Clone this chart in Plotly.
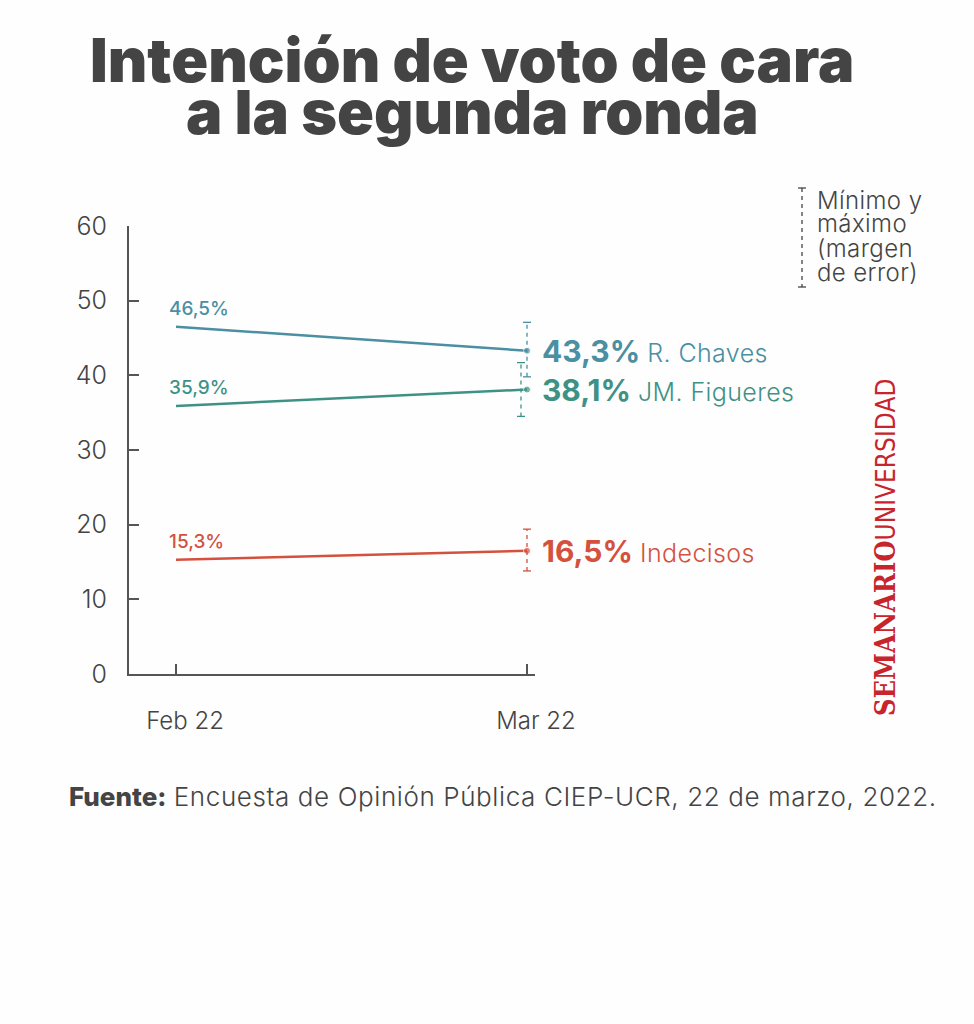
import plotly.graph_objects as go

# ---- data ----
months = ["Feb 22", "Mar 22"]
candidates = ["R. Chaves", "JM. Figueres", "Indecisos"]
chaves = [46.5, 43.3]
figueres = [35.9, 38.1]
indecisos = [15.3, 16.5]
err_low = [39.8, 34.5, 13.8]   # March minimum (margin of error)
err_high = [47.1, 41.7, 19.4]  # March maximum (margin of error)
y_ticks = [0, 10, 20, 30, 40, 50, 60]

series = [chaves, figueres, indecisos]
colors = ["#4a8fa2", "#3e9285", "#d4513e"]
err_px_offset = [0, -6, 0]

W, H = 974, 1024
L, R, T, B = 129, 535, 226, 674
TXT = "#444444"
FONT = "Inter"

def px(x):
    return (x - L) / (R - L)

def py(y):
    return (B - y) / (B - T)

def fmt(v):
    return f"{v:.1f}".replace(".", ",") + "%"

def wide(s, ls="0.5px"):
    return f"<span style='letter-spacing:{ls}'>{s}</span>"

xs = list(range(len(months)))
fig = go.Figure()

for name, vals, col in zip(candidates, series, colors):
    fig.add_trace(go.Scatter(
        x=xs, y=vals, mode="lines+markers", name=name,
        line=dict(color=col, width=2.5),
        marker=dict(color=col, size=[0, 7]),
        hoverinfo="skip", showlegend=False,
    ))

# error bars (dashed, with caps), through data scales
for i, col in enumerate(colors):
    off = err_px_offset[i]
    fig.add_shape(type="line", xref="x", yref="y", xsizemode="pixel", xanchor=xs[-1],
                  x0=off, x1=off, y0=err_low[i], y1=err_high[i],
                  line=dict(color=col, width=1.3, dash="4px,4px"))
    for yv in (err_low[i], err_high[i]):
        fig.add_shape(type="line", xref="x", yref="y", xsizemode="pixel", xanchor=xs[-1],
                      x0=off - 4, x1=off + 4, y0=yv, y1=yv,
                      line=dict(color=col, width=1.3))

annotations = []
# start labels
for vals, col in zip(series, colors):
    annotations.append(dict(
        x=xs[0], y=vals[0], xref="x", yref="y", text=fmt(vals[0]),
        showarrow=False, xanchor="left", yanchor="middle", xshift=-9, yshift=18,
        font=dict(family=FONT, size=19, color=col, weight=500),
    ))
# end labels
for name, vals, col in zip(candidates, series, colors):
    annotations.append(dict(
        x=xs[-1], y=vals[-1], xref="x", yref="y",
        text=f"<span style='font-size:30px;font-weight:700'>{fmt(vals[-1])}</span> " + wide(name, "0.4px"),
        showarrow=False, xanchor="left", yanchor="middle", xshift=13, yshift=0,
        font=dict(family=FONT, size=25, color=col, weight=300),
    ))

# title
for txt, yc in (("Intención de voto de cara", 60), ("a la segunda ronda", 112)):
    annotations.append(dict(x=px(472), y=py(yc), xref="paper", yref="paper",
                            text=txt, showarrow=False,
                            xanchor="center", yanchor="middle",
                            font=dict(family=FONT, size=61, color=TXT, weight=900)))

# legend note
for k, line in enumerate(["Mínimo y", "máximo", "(margen", "de error)"]):
    annotations.append(dict(x=px(815), y=py(200 + 24 * k), xref="paper", yref="paper",
                            text=wide(line, "0.4px"), showarrow=False,
                            xanchor="left", yanchor="middle", align="left",
                            font=dict(family=FONT, size=24, color=TXT, weight=300)))

# source
annotations.append(dict(x=px(67), y=py(796), xref="paper", yref="paper",
                        text="<span style='font-weight:800'>Fuente:</span> "
                             + wide("Encuesta de Opinión Pública CIEP-UCR, 22 de marzo, 2022.", "0.6px"),
                        showarrow=False, xanchor="left", yanchor="middle",
                        font=dict(family=FONT, size=26, color=TXT, weight=300)))

# logo
annotations.append(dict(x=px(885), y=py(548), xref="paper", yref="paper",
                        text="<span style='font-family:DejaVu Serif Condensed, DejaVu Serif;font-weight:700;font-size:27px'>SEMANARIO</span><span style='font-family:Liberation Sans Narrow, DejaVu Sans Condensed, Inter;font-weight:300'>UNIVERSIDAD</span>",
                        showarrow=False, textangle=-90, xanchor="center", yanchor="middle",
                        font=dict(family="Inter", size=26, color="#c8242b")))

shapes_extra = [
    dict(type="line", xref="paper", yref="paper", x0=px(802), x1=px(802), y0=py(188), y1=py(287),
         line=dict(color=TXT, width=1.3, dash="4px,4px")),
    dict(type="line", xref="paper", yref="paper", x0=px(798), x1=px(806), y0=py(188), y1=py(188),
         line=dict(color=TXT, width=1.3)),
    dict(type="line", xref="paper", yref="paper", x0=px(798), x1=px(806), y0=py(287), y1=py(287),
         line=dict(color=TXT, width=1.3)),
]
for s in shapes_extra:
    fig.add_shape(**s)

fig.update_layout(
    width=W, height=H,
    margin=dict(l=L, r=W - R, t=T, b=H - B),
    paper_bgcolor="#fefefe", plot_bgcolor="#fefefe",
    annotations=annotations,
    xaxis=dict(
        range=[-(176 - L) / 351, 1 + (R - 527) / 351],
        tickvals=xs, ticktext=months,
        showgrid=False, zeroline=False,
        showline=True, linecolor="#555555", linewidth=2,
        ticks="inside", ticklen=10, tickwidth=2, tickcolor="#555555",
        tickfont=dict(family=FONT, size=24, color=TXT, weight=300),
        ticklabelstandoff=24, ticklabelshift=9, fixedrange=True,
    ),
    yaxis=dict(
        range=[0, 60], tickvals=y_ticks,
        showgrid=False, zeroline=False,
        showline=True, linecolor="#555555", linewidth=2,
        ticks="inside", ticklen=10, tickwidth=2, tickcolor="#555555",
        tickfont=dict(family=FONT, size=25, color=TXT, weight=300),
        ticklabelstandoff=15, fixedrange=True,
    ),
)

fig.write_html("out.html")
